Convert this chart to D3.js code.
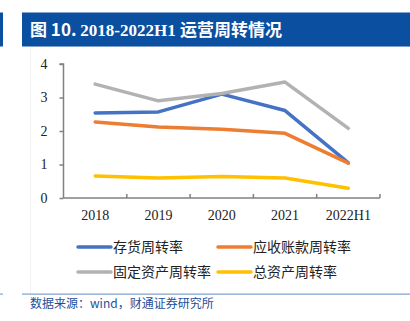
<!DOCTYPE html>
<html>
<head>
<meta charset="utf-8">
<script src="https://cdn.jsdelivr.net/npm/d3@7"></script>
<style>
  body { margin: 0; background: #fff; }
  svg { display: block; }
</style>
</head>
<body>
<svg id="chart" width="410" height="321"></svg>
<script>
const width = 410;
const height = 321;

// operating turnover, 2018 - 2022H1
const years = ["2018", "2019", "2020", "2021", "2022H1"];
const inventoryTurnover = [2.54, 2.57, 3.1, 2.61, 1.05];
const receivableTurnover = [2.27, 2.12, 2.05, 1.93, 1.04];
const fixedAssetTurnover = [3.4, 2.9, 3.12, 3.46, 2.08];
const totalAssetTurnover = [0.66, 0.6, 0.64, 0.6, 0.29];
const yTicks = [0, 1, 2, 3, 4];

const series = [
    { name: "存货周转率", values: inventoryTurnover, color: "#4472C4" },
    { name: "应收账款周转率", values: receivableTurnover, color: "#ED7D31" },
    { name: "固定资产周转率", values: fixedAssetTurnover, color: "#B2B2B2" },
    { name: "总资产周转率", values: totalAssetTurnover, color: "#FFC000" }
];

const svg = d3.select("#chart");

// faint frame around the chart body
svg.append("rect")
    .attr("x", 30.5).attr("y", 46.5)
    .attr("width", 400).attr("height", 248)
    .attr("fill", "none")
    .attr("stroke", "#f2f2f2");

// title bar
svg.append("rect").attr("x", 0).attr("y", 12.5).attr("width", 3).attr("height", 34).attr("fill", "#0B4FA0");
svg.append("rect").attr("x", 22).attr("y", 12.5).attr("width", 388).attr("height", 34).attr("fill", "#0B4FA0");
const title = svg.append("text")
    .attr("x", 30).attr("y", 36)
    .attr("fill", "#fff")
    .attr("font-weight", "bold")
    .attr("font-size", 17);
title.append("tspan").attr("font-family", "Noto Sans CJK SC").text("图 10. ");
title.append("tspan").attr("font-family", "Liberation Serif").text("2018-2022H1 ");
title.append("tspan").attr("font-family", "Noto Sans CJK SC").text("运营周转情况");

// scales
const x = d3.scaleBand().domain(years).range([63.5, 380]);
const y = d3.scaleLinear().domain([0, 4]).range([198, 64]);

const axisColor = "#808080";

const yAxis = svg.append("g")
    .attr("transform", "translate(63.5,0)")
    .call(d3.axisLeft(y).tickValues(yTicks).tickSize(4).tickPadding(12).tickFormat(d3.format("d")));
yAxis.selectAll("path, line").attr("stroke", axisColor).attr("stroke-width", 1.5);
yAxis.select(".domain").attr("d", `M-4,${y(4)}H0V${y(0)}`);
yAxis.selectAll("text")
    .attr("font-family", "Liberation Serif")
    .attr("font-size", 14)
    .attr("fill", "#222");

// x axis with ticks pointing up at the band edges
const xAxis = svg.append("g").attr("transform", `translate(0,${y(0)})`);
xAxis.append("line")
    .attr("x1", 63.5).attr("x2", 380)
    .attr("stroke", axisColor).attr("stroke-width", 1.5);
xAxis.selectAll(".edge")
    .data(years.slice(1).concat(["end"]))
    .enter()
    .append("line")
    .attr("x1", d => d === "end" ? 380 : x(d))
    .attr("x2", d => d === "end" ? 380 : x(d))
    .attr("y1", 0).attr("y2", -4)
    .attr("stroke", axisColor).attr("stroke-width", 1.5);
xAxis.selectAll(".lbl")
    .data(years)
    .enter()
    .append("text")
    .attr("x", d => x(d) + x.bandwidth() / 2)
    .attr("y", 22)
    .attr("text-anchor", "middle")
    .attr("font-family", "Liberation Serif")
    .attr("font-size", 14)
    .attr("fill", "#222")
    .text(d => d);

// lines
const line = d3.line()
    .x((d, i) => x(years[i]) + x.bandwidth() / 2)
    .y(d => y(d));

svg.selectAll(".series")
    .data(series)
    .enter()
    .append("path")
    .attr("d", d => line(d.values))
    .attr("fill", "none")
    .attr("stroke", d => d.color)
    .attr("stroke-width", 3.5)
    .attr("stroke-linejoin", "round")
    .attr("stroke-linecap", "round");

// legend, two columns
const legend = svg.selectAll(".legend")
    .data(series)
    .enter()
    .append("g")
    .attr("transform", (d, i) => `translate(${i % 2 ? 218 : 78},${i < 2 ? 247 : 272})`);
legend.append("line")
    .attr("x1", 0).attr("x2", 33)
    .attr("stroke", d => d.color)
    .attr("stroke-width", 3.5)
    .attr("stroke-linecap", "round");
legend.append("text")
    .attr("x", 35)
    .attr("y", 5)
    .attr("font-family", "Noto Sans CJK SC")
    .attr("font-size", 14)
    .attr("fill", "#222")
    .text(d => d.name);

// source footer
svg.append("rect").attr("x", 0).attr("y", 293.5).attr("width", 3).attr("height", 1.2).attr("fill", "#7FA3D3");
svg.append("rect").attr("x", 22).attr("y", 293.5).attr("width", 388).attr("height", 1.2).attr("fill", "#7FA3D3");
svg.append("text")
    .attr("x", 30).attr("y", 308)
    .attr("font-family", "Noto Sans CJK SC")
    .attr("font-size", 12)
    .attr("fill", "#1F4E99")
    .text("数据来源：wind，财通证券研究所");
</script>
</body>
</html>
